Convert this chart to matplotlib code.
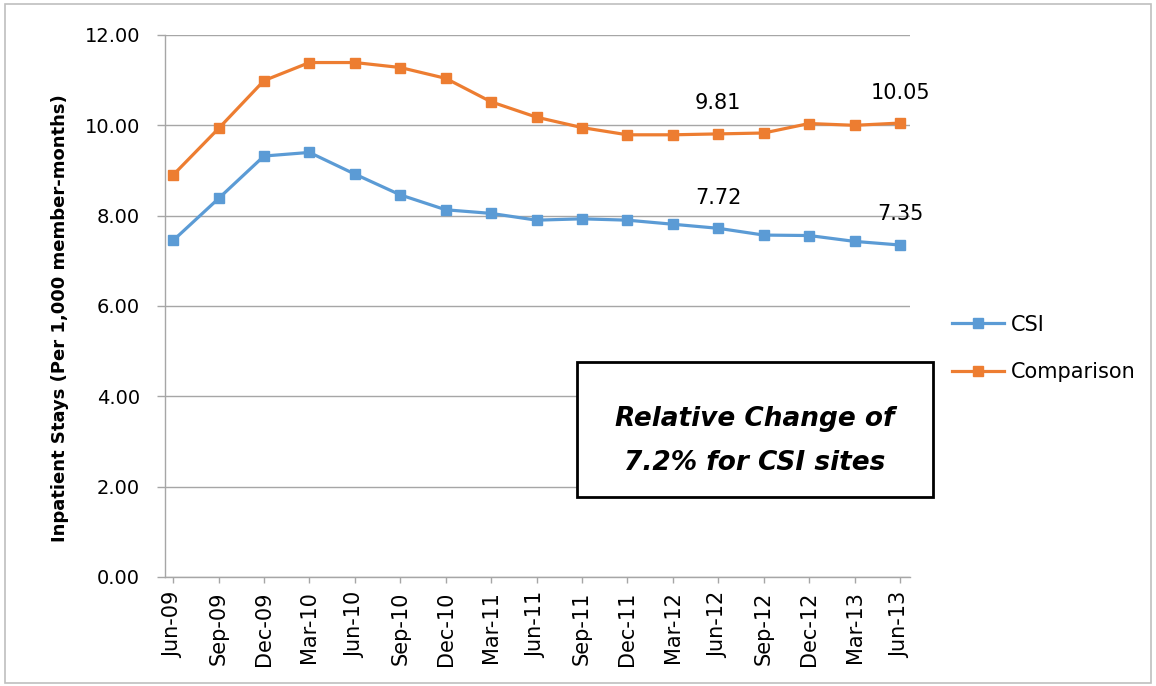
import matplotlib.pyplot as plt
from matplotlib.patches import Rectangle

# data
quarters = ['Jun-09', 'Sep-09', 'Dec-09', 'Mar-10', 'Jun-10', 'Sep-10', 'Dec-10',
            'Mar-11', 'Jun-11', 'Sep-11', 'Dec-11', 'Mar-12', 'Jun-12', 'Sep-12',
            'Dec-12', 'Mar-13', 'Jun-13']
csi = [7.45, 8.38, 9.32, 9.40, 8.92, 8.46, 8.13, 8.05, 7.90, 7.93, 7.90,
       7.81, 7.72, 7.57, 7.56, 7.43, 7.35]
comparison = [8.90, 9.93, 10.99, 11.39, 11.39, 11.28, 11.04, 10.52, 10.18, 9.95,
              9.79, 9.79, 9.81, 9.83, 10.04, 10.00, 10.05]
yticks = [0, 2, 4, 6, 8, 10, 12]
labelled = [12, 16]  # points that carry a value label

BLUE = '#5B9BD5'
ORANGE = '#ED7D31'
GRID = '#A6A6A6'

fig = plt.figure(figsize=(11.56, 6.86), dpi=100)
ax = fig.add_axes([0.1427, 0.1589, 0.6445, 0.7901])

x = list(range(len(quarters)))
ax.plot(x, csi, color=BLUE, lw=2.3, marker='s', ms=7.5, label='CSI')
ax.plot(x, comparison, color=ORANGE, lw=2.3, marker='s', ms=7.5, label='Comparison')

ax.set_xlim(-0.18, len(quarters) - 1 + 0.22)
ax.set_ylim(0, 12)
ax.set_yticks(yticks)
ax.set_yticklabels([f'{v:.2f}' for v in yticks])
ax.set_xticks(x)
ax.set_xticklabels(quarters, rotation=90)
ax.tick_params(axis='y', labelsize=14, color=GRID, length=6, width=1, pad=12)
ax.tick_params(axis='x', labelsize=15, color=GRID, length=4.5, width=1, pad=6)
ax.grid(axis='y', color=GRID, lw=1)
ax.set_axisbelow(True)
for side in ('top', 'right'):
    ax.spines[side].set_visible(False)
for side in ('left', 'bottom'):
    ax.spines[side].set_color(GRID)
    ax.spines[side].set_linewidth(1)

ax.set_ylabel('Inpatient Stays (Per 1,000 member-months)', fontsize=13,
              fontweight='bold', va='center')
ax.yaxis.set_label_coords(-0.141, 0.478)

# data labels
for series in (comparison, csi):
    for i in labelled:
        ax.annotate(f'{series[i]:.2f}', (x[i], series[i]), xytext=(0, 22),
                    textcoords='offset points', ha='center', va='center', fontsize=15)

# callout box
fig.patches.append(Rectangle((577 / 1156, 1 - 497 / 686), 356 / 1156, 135 / 686,
                             transform=fig.transFigure, fc='white', ec='black',
                             lw=2, zorder=5))
fig.text(755 / 1156, 1 - 441 / 686, 'Relative Change of\n7.2% for CSI sites',
         ha='center', va='center', fontsize=19, fontweight='bold',
         fontstyle='italic', linespacing=1.85, zorder=6)

fig.legend(loc='center left', bbox_to_anchor=(0.807, 0.492), frameon=False,
           fontsize=15, handlelength=2.5, labelspacing=1.33, handletextpad=0.35)

# outer chart frame
fig.patches.append(Rectangle((0.004, 0.004), 0.992, 0.99, transform=fig.transFigure,
                             fill=False, ec='#BFBFBF', lw=1.2))

fig.savefig('out.png', dpi=100)
